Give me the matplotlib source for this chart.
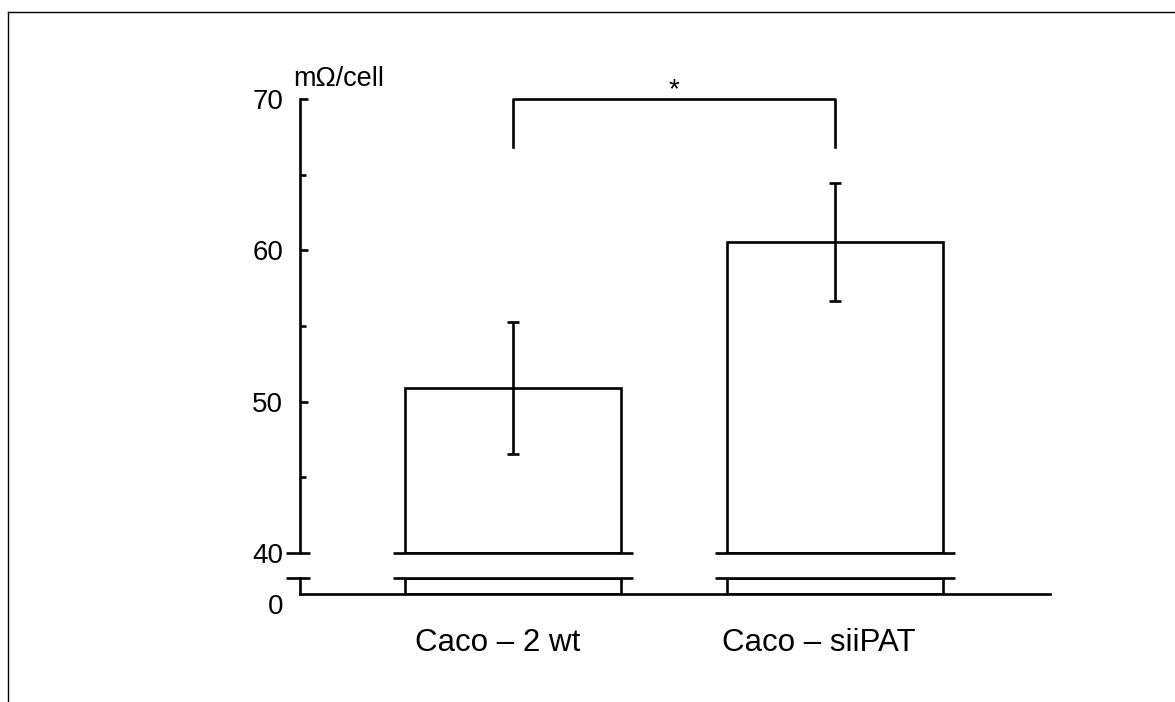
import numpy as np
import matplotlib
matplotlib.use("Agg")
import matplotlib.pyplot as plt
from matplotlib.lines import Line2D

plt.rcParams['font.family'] = ['Liberation Sans', 'DejaVu Sans']

# data
groups = ["Caco – 2 wt", "Caco – siiPAT"]
means = [50.9, 60.55]
errs = [4.35, 3.9]
unit = "mΩ/cell"
major_ticks = [40, 50, 60, 70]
minor_ticks = [45, 55, 65]
sig_top = 70
sig_drop = 66.8
sig_mark = "*"

lw = 1.9
fig = plt.figure(figsize=(11.75, 7.02), dpi=100)
W, H = 1175, 702

def rect(l, t, r, b):
    return [l / W, 1 - b / H, (r - l) / W, (b - t) / H]

ax = fig.add_axes(rect(300, 99, 1050, 553))   # upper part 40..70
axb = fig.add_axes(rect(300, 578, 1050, 594))  # lower part from 0

x = np.arange(len(groups))
bw = 0.67
xlim = (-0.661, 1.668)
over = 0.037  # overhang of break lines past bar edges
brk = [-14 / 750, 10 / 750]  # break mark on the y axis, axes fraction

# upper axes
ax.bar(x, np.array(means) - 40, bottom=40, width=bw, color='white',
       edgecolor='black', linewidth=lw, zorder=2)
ax.errorbar(x, means, yerr=errs, fmt='none', ecolor='black', elinewidth=lw,
            capsize=4.5, capthick=lw, zorder=3)
ax.set_xlim(*xlim)
ax.set_ylim(40, 70)
for s in ['top', 'right', 'bottom']:
    ax.spines[s].set_visible(False)
ax.spines['left'].set_linewidth(lw)
ax.set_xticks([])
ax.set_yticks(major_ticks)
ax.set_yticks(minor_ticks, minor=True)
ax.tick_params(axis='y', which='major', direction='in', length=6, width=lw,
               labelsize=20, pad=12)
ax.tick_params(axis='y', which='minor', direction='in', length=4, width=lw)
ax.yaxis.get_major_ticks()[0].tick1line.set_visible(False)
ax.patch.set_visible(False)

# break line at 40: across axis and across each bar
ax.plot(brk, [0, 0], transform=ax.transAxes, color='black',
        lw=lw, clip_on=False, solid_capstyle='butt')
for xi in x:
    ax.plot([xi - bw / 2 - over, xi + bw / 2 + over], [40, 40], color='black',
            lw=lw, clip_on=False, solid_capstyle='butt', zorder=4)

# significance bracket
ax.plot([x[0], x[0], x[1], x[1]], [sig_drop, sig_top, sig_top, sig_drop],
        color='black', lw=lw, clip_on=False)
ax.annotate(sig_mark, xy=(x.mean(), sig_top), xytext=(0, -3),
            textcoords='offset points', ha='center', va='bottom', fontsize=20)

ax.annotate(unit, xy=(0, 1), xycoords='axes fraction', xytext=(-5, 9),
            textcoords='offset points', ha='left', va='baseline', fontsize=19.5)

# lower axes
axb.bar(x, [1, 1], width=bw, color='white', edgecolor='black', linewidth=lw)
axb.set_xlim(*xlim)
axb.set_ylim(0, 1)
for s in ['top', 'right']:
    axb.spines[s].set_visible(False)
axb.spines['left'].set_linewidth(lw)
axb.spines['bottom'].set_linewidth(lw)
axb.set_xticks([])
axb.set_yticks([0])
axb.set_yticklabels(["0"])
axb.tick_params(axis='y', length=0, labelsize=20, pad=12)
for t in axb.get_yticklabels():
    t.set_va('top')
axb.patch.set_visible(False)
axb.plot(brk, [1, 1], transform=axb.transAxes, color='black',
         lw=lw, clip_on=False, solid_capstyle='butt')
for xi in x:
    axb.plot([xi - bw / 2 - over, xi + bw / 2 + over], [1, 1], color='black',
             lw=lw, clip_on=False, solid_capstyle='butt', zorder=4)

# category labels
label_x = [-0.048, 0.950]
for lx, g in zip(label_x, groups):
    axb.annotate(g, xy=(lx, 0), xytext=(0, -35), textcoords='offset points',
                 ha='center', va='center', fontsize=22.5)

# frame lines (top and left)
fig.add_artist(Line2D([8 / W, 8 / W], [0, 1 - 12 / H], color='black', lw=1))
fig.add_artist(Line2D([8 / W, 1], [1 - 12 / H, 1 - 12 / H], color='black', lw=1))

fig.savefig("out.png", dpi=100)
